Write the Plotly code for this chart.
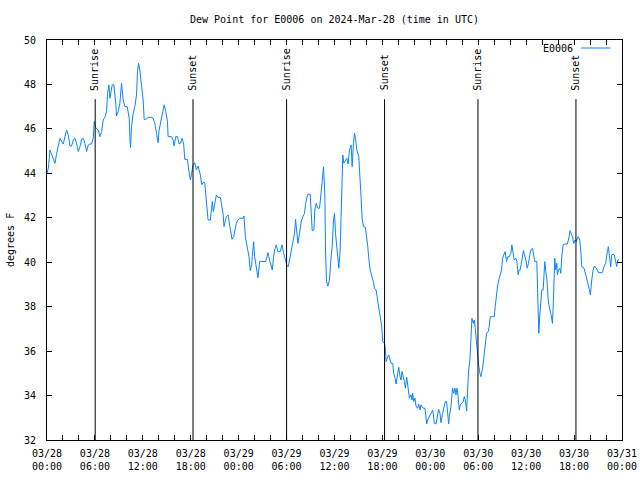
import pandas as pd
import plotly.graph_objects as go

START = "2024-03-28 00:00"
STATION = "E0006"

# hours after 2024-03-28 00:00 UTC
hours = [0.0, 0.167, 0.375, 0.583, 0.792, 1.0, 1.208, 1.417, 1.625, 1.833, 2.042, 2.25, 2.458, 2.667, 2.875, 3.083,
         3.292, 3.5, 3.708, 3.917, 4.125, 4.333, 4.542, 4.75, 4.958, 5.167, 5.375, 5.583, 5.792, 5.917, 6.125, 6.417,
         6.625, 6.833, 7.042, 7.25, 7.458, 7.583, 7.75, 7.875, 8.0, 8.167, 8.375, 8.5, 8.625, 8.708, 8.917, 9.125,
         9.333, 9.542, 9.75, 10.042, 10.292, 10.375, 10.458, 10.583, 10.792, 11.0, 11.208, 11.333, 11.458, 11.625,
         11.833, 12.042, 12.167, 12.375, 12.667, 13.083, 13.292, 13.5, 13.708, 13.917, 14.042, 14.333, 14.542,
         14.667, 14.875, 15.083, 15.167, 15.583, 15.792, 15.917, 16.125, 16.333, 16.542, 16.708, 16.917, 17.125,
         17.25, 17.583, 17.75, 17.958, 18.125, 18.292, 18.5, 18.708, 18.917, 19.125,
         19.208, 19.375, 19.542, 19.75, 19.875, 20.042, 20.167, 20.458, 20.583, 20.708, 20.833, 21.0, 21.208,
         21.417, 21.708, 21.833, 22.042, 22.167, 22.292, 22.458, 22.667, 22.792, 22.958, 23.167, 23.375, 23.5,
         23.708, 23.917, 24.125, 24.542, 24.667, 24.833, 25.083, 25.292, 25.458, 25.625, 25.708, 25.875, 26.0,
         26.208, 26.417, 26.625, 26.833, 27.375, 27.542, 27.667, 27.875, 28.083, 28.208, 28.375, 28.5, 28.708,
         28.917, 29.208, 29.417, 29.625, 29.875, 30.042, 30.208, 30.375, 30.583, 30.792, 31.0, 31.125, 31.292,
         31.417, 31.625,
         31.833, 32.042, 32.25, 32.375, 32.542, 32.667, 32.958, 33.083, 33.208, 33.417, 33.542, 33.708, 33.917,
         34.125, 34.333, 34.458, 34.625, 34.792, 34.875, 35.0, 35.167, 35.375, 35.542, 35.708, 35.875, 36.0,
         36.125, 36.292, 36.417, 36.542, 36.708, 36.833, 36.958, 37.042, 37.167, 37.375, 37.542, 37.708, 37.875,
         38.083, 38.208, 38.375, 38.5, 38.625, 38.792, 39.042, 39.125, 39.208, 39.333, 39.458, 39.625, 39.875,
         40.042, 40.167, 40.292, 40.458, 40.625, 40.875, 41.0, 41.208, 41.333, 41.458, 41.625, 41.75, 41.917,
         42.042, 42.25, 42.375,
         42.458, 42.667, 42.792, 42.958, 43.083, 43.292, 43.417, 43.583, 43.708, 43.917, 44.042, 44.208, 44.333,
         44.458, 44.625, 44.75, 44.875, 45.042, 45.25, 45.375, 45.583, 45.708, 45.792, 45.917, 46.083, 46.208,
         46.417, 46.542, 46.708, 46.833, 46.958, 47.125, 47.333, 47.458, 47.542, 47.667, 47.875, 48.0, 48.167,
         48.292, 48.375, 48.5, 48.708, 48.833, 48.958, 49.042, 49.208, 49.333, 49.542, 49.75, 49.875, 50.042,
         50.167, 50.292, 50.375, 50.583, 50.708, 50.792, 50.917, 51.083, 51.208, 51.333, 51.458, 51.542, 51.625,
         51.75, 51.917, 52.125, 52.25, 52.375, 52.542, 52.667, 52.792, 52.958, 53.083, 53.208, 53.375, 53.5,
         53.625, 53.792, 53.917, 54.042, 54.208, 54.333, 54.542, 54.75, 54.875, 55.042, 55.25, 55.375, 55.5,
         55.792, 56.0, 56.125, 56.292, 56.417,
         56.625, 56.75, 56.917, 57.042, 57.25, 57.375, 57.542, 57.708, 57.875, 58.083, 58.208, 58.375, 58.5,
         58.708, 58.833, 59.0, 59.125, 59.25, 59.417, 59.542, 59.667, 59.792, 59.958, 60.125, 60.292, 60.458,
         60.583, 60.792, 60.917, 61.083, 61.333, 61.417, 61.5, 61.583, 61.708, 61.833, 61.958, 62.125, 62.25,
         62.333, 62.458, 62.583, 62.75, 62.875, 63.083, 63.208, 63.292, 63.417, 63.5, 63.583, 63.708, 63.833,
         63.917, 64.042, 64.208, 64.333, 64.458, 64.625, 64.875, 65.167, 65.375, 65.5, 65.625, 65.792, 65.958,
         66.125, 66.292, 66.417, 66.542, 66.708, 66.833, 66.958, 67.25, 67.458, 67.667, 67.875, 68.042, 68.208,
         68.375, 68.542, 68.792, 69.042, 69.542, 69.75, 69.958, 70.167, 70.292, 70.458, 70.583, 70.708, 70.875,
         71.042, 71.208, 71.333, 71.458, 71.625]

# dew point, degrees F
dewpt = [44.0, 44.23, 45.05, 44.83, 44.68, 44.45, 44.9, 45.2, 45.58, 45.43, 45.32, 45.65, 45.95, 45.73, 45.23, 45.23,
         45.5, 45.58, 45.35, 44.98, 45.2, 45.53, 45.58, 45.35, 44.98, 45.28, 45.32, 45.32, 45.58, 46.33, 46.03, 45.95,
         45.65, 45.88, 46.4, 46.52, 46.78, 47.6, 47.98, 47.38, 47.75, 47.98, 47.98, 47.6, 47.08, 46.58, 46.78, 47.15,
         48.05, 47.3, 47.0, 47.0, 46.48, 45.65, 45.17, 46.1, 46.7, 47.0, 47.53, 48.58, 48.95, 48.65,
         48.05, 47.3, 46.43, 46.43, 46.52, 46.52, 46.48, 46.25, 45.8, 45.38, 45.95, 46.55, 46.93,
         47.08, 46.78, 46.33, 45.65, 45.65, 45.5, 45.23, 45.65, 45.65, 45.32, 45.35, 45.58, 45.28,
         44.63, 44.63, 44.15, 43.7, 44.03, 44.38, 44.48, 44.15, 44.33, 44.08,
         43.93, 43.48, 43.58, 43.58, 42.95, 42.5, 41.9, 41.9, 42.5, 42.73, 42.28, 42.65, 43.03,
         42.92, 42.92, 42.65, 42.2, 41.6, 41.83, 42.05, 42.13, 41.83, 41.45, 41.03, 41.15, 41.45,
         41.75, 41.9, 41.98, 41.98, 42.08, 41.15, 40.7, 40.25, 39.62, 39.88, 40.25, 40.93, 40.25,
         39.65, 39.3, 40.03, 40.03, 40.03, 40.25, 40.43, 40.1, 39.88, 39.65, 40.25, 40.55, 40.78,
         40.48, 40.48, 40.78, 40.43, 40.03, 39.85, 39.8, 40.1, 40.55, 40.85, 41.3, 41.93, 41.3,
         40.85, 41.3,
         41.83, 42.05, 42.2, 42.65, 42.95, 43.06, 43.06, 41.9, 41.42, 41.45, 42.35, 42.65, 42.43,
         42.43, 43.06, 43.63, 44.3, 43.03, 40.55, 39.13, 38.93, 39.2, 40.1, 40.7, 41.9, 42.2,
         41.3, 40.7, 40.03, 39.73, 40.55, 41.83, 43.85, 44.83, 44.45, 44.6, 44.68, 44.42, 45.05,
         45.28, 44.3, 45.35, 45.8, 45.58, 45.05, 44.75, 44.3, 43.63, 42.88, 41.98, 41.6, 41.57,
         41.15, 40.7, 40.18, 39.65, 39.43, 39.13, 38.83, 38.75, 38.45, 38.15, 37.78, 37.48, 37.1,
         36.43, 36.35, 36.13,
         35.53, 35.75, 35.83, 35.6, 35.45, 35.45, 35.0, 34.78, 34.52, 35.0, 35.27, 34.85, 34.7,
         35.08, 34.85, 34.63, 34.33, 34.82, 34.25, 33.88, 34.03, 33.8, 34.1, 33.73, 33.88, 33.53,
         33.43, 33.62, 33.35, 33.58, 33.5, 33.43, 33.43, 32.98, 32.72, 32.9, 33.05, 33.13, 33.23,
         33.35, 33.13, 32.75, 32.72, 32.98, 33.2, 33.38, 33.2, 32.78, 33.2, 33.58, 33.73, 33.73,
         33.28, 32.72, 33.05, 33.5, 34.03, 34.33, 34.1, 34.33, 34.03, 34.33, 34.03, 33.43, 33.35,
         33.58, 33.65, 33.73, 33.95, 33.8, 33.3, 34.48, 35.15, 35.6, 36.73, 37.48, 37.25, 37.4,
         37.03, 36.28, 35.75, 35.38, 35.0, 34.85, 35.23, 35.83, 36.43, 36.8, 36.88, 37.1, 37.55,
         37.55, 37.55, 38.0, 38.6, 38.93,
         39.28, 39.43, 39.65, 40.18, 40.4, 40.48, 40.03, 40.25, 40.25, 40.4, 40.78, 40.4, 40.1,
         40.18, 40.03, 39.43, 39.65, 39.65, 40.03, 40.33, 40.52, 40.33, 40.1, 39.73, 39.95, 40.33,
         40.55, 40.63, 40.33, 40.03, 40.03, 39.2, 37.63, 36.8, 37.63, 38.3, 38.75, 38.75, 39.5,
         40.03, 39.58, 39.28, 38.38, 38.0, 37.7, 37.48, 37.25, 38.3, 39.35, 40.18, 39.65, 39.95,
         39.43, 39.65, 39.73, 39.5, 40.25, 40.78, 40.82, 40.82, 41.15, 41.42, 41.3, 41.15, 40.85,
         41.0, 40.93, 41.12, 41.15, 41.0, 40.55, 39.8, 39.73, 39.35, 39.13, 38.83, 38.53, 39.2,
         39.65, 39.83, 39.73, 39.53, 39.53, 39.8, 39.95, 40.48, 40.7, 40.18, 39.8, 40.33, 40.36,
         40.33, 40.03, 39.8, 40.1, 40.1]

event_times = ["2024-03-28 06:02", "2024-03-28 18:17", "2024-03-29 06:00",
               "2024-03-29 18:16", "2024-03-30 05:58", "2024-03-30 18:14"]
event_labels = ["Sunrise", "Sunset", "Sunrise", "Sunset", "Sunrise", "Sunset"]

tick_times = pd.date_range("2024-03-28 00:00", "2024-03-31 00:00", freq="6h")
tick_text = ["03/28<br>00:00", "03/28<br>06:00", "03/28<br>12:00", "03/28<br>18:00",
             "03/29<br>00:00", "03/29<br>06:00", "03/29<br>12:00", "03/29<br>18:00",
             "03/30<br>00:00", "03/30<br>06:00", "03/30<br>12:00", "03/30<br>18:00",
             "03/31<br>00:00"]
minor_times = pd.date_range("2024-03-28 00:00", "2024-03-31 00:00", freq="2h")
y_ticks = [32, 34, 36, 38, 40, 42, 44, 46, 48, 50]

LINE_COLOR = "#0a84ff"
FONT = "DejaVu Sans Mono"

times = pd.Timestamp(START) + pd.to_timedelta(hours, unit="h")

fig = go.Figure()
fig.add_trace(go.Scatter(x=times, y=dewpt, mode="lines", name=STATION,
                         line=dict(color=LINE_COLOR, width=1), showlegend=False))

for t, lab in zip(event_times, event_labels):
    fig.add_shape(type="line", xref="x", yref="paper", x0=t, x1=t, y0=0, y1=0.852,
                  line=dict(color="black", width=1))
    fig.add_annotation(x=t, y=0.868, xref="x", yref="paper", text=lab, textangle=-90,
                       showarrow=False, xanchor="center", yanchor="bottom",
                       font=dict(family=FONT, size=10, color="black"))

# key (gnuplot style: text then line sample)
fig.add_annotation(x=0.918, y=0.98, xref="paper", yref="paper", text=STATION, showarrow=False,
                   xanchor="right", yanchor="middle", font=dict(family=FONT, size=10, color="black"))
fig.add_shape(type="line", xref="paper", yref="paper", x0=0.929, x1=0.98, y0=0.98, y1=0.98,
              line=dict(color=LINE_COLOR, width=1))

fig.add_annotation(x=0, y=0.5, xref="paper", yref="paper", text="degrees F", textangle=-90,
                   showarrow=False, xanchor="center", yanchor="middle", xshift=-37,
                   font=dict(family=FONT, size=10, color="black"))

fig.update_layout(
    width=640, height=480,
    margin=dict(l=47, r=18, t=40, b=40, autoexpand=False),
    paper_bgcolor="white", plot_bgcolor="white",
    font=dict(family=FONT, size=10, color="black"),
    title=dict(text="Dew Point for %s on 2024-Mar-28 (time in UTC)" % STATION,
               x=0.5, xref="paper", xanchor="center", y=1 - 19 / 480, yanchor="middle",
               font=dict(family=FONT, size=10, color="black")),
    xaxis=dict(type="date", range=["2024-03-28 00:00", "2024-03-31 00:00"],
               tickmode="array", tickvals=tick_times, ticktext=tick_text,
               ticks="inside", ticklen=5, tickcolor="black", tickwidth=1,
               minor=dict(tickmode="array", tickvals=minor_times, ticks="inside", ticklen=5,
                          tickcolor="black", tickwidth=1, showgrid=False),
               showline=True, linecolor="black", linewidth=1, mirror="allticks",
               showgrid=False, zeroline=False, fixedrange=True, automargin=False,
               ticklabelstandoff=4),
    yaxis=dict(range=[32, 50], tickmode="array", tickvals=y_ticks,
               ticks="inside", ticklen=5, tickcolor="black", tickwidth=1,
               showline=True, linecolor="black", linewidth=1, mirror="allticks",
               showgrid=False, zeroline=False, ticklabelstandoff=8, automargin=False),
)

fig.write_html("out.html")
